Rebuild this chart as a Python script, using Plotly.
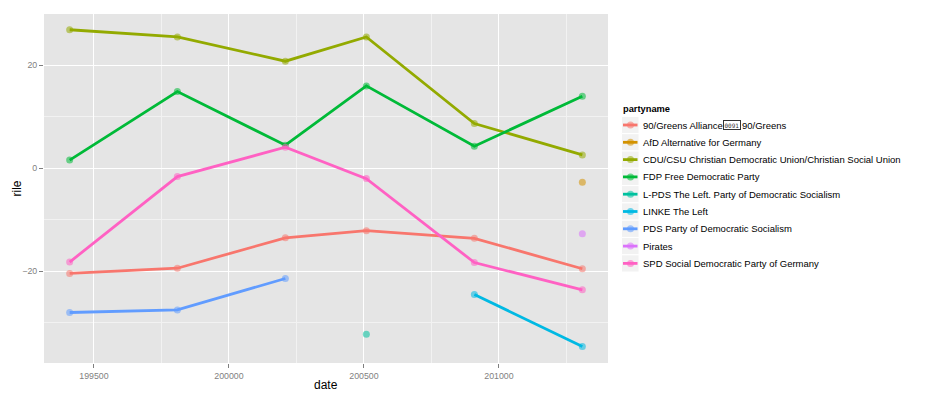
import plotly.graph_objects as go

parties = [
    "90/Greens Alliance\u009190/Greens",
    "AfD Alternative for Germany",
    "CDU/CSU Christian Democratic Union/Christian Social Union",
    "FDP Free Democratic Party",
    "L-PDS The Left. Party of Democratic Socialism",
    "LINKE The Left",
    "PDS Party of Democratic Socialism",
    "Pirates",
    "SPD Social Democratic Party of Germany",
]
colors = ["#F8766D", "#D39200", "#93AA00", "#00BA38", "#00C19F",
          "#00B9E3", "#619CFF", "#DB72FB", "#FF61C3"]

dates_greens = [199410, 199809, 200209, 200509, 200909, 201309]
rile_greens = [-20.4, -19.4, -13.5, -12.1, -13.6, -19.5]
dates_afd = [201309]
rile_afd = [-2.7]
dates_cdu = [199410, 199809, 200209, 200509, 200909, 201309]
rile_cdu = [26.9, 25.5, 20.8, 25.5, 8.7, 2.6]
dates_fdp = [199410, 199809, 200209, 200509, 200909, 201309]
rile_fdp = [1.6, 14.9, 4.5, 16.0, 4.3, 14.0]
dates_lpds = [200509]
rile_lpds = [-32.2]
dates_linke = [200909, 201309]
rile_linke = [-24.5, -34.6]
dates_pds = [199410, 199809, 200209]
rile_pds = [-28.0, -27.5, -21.4]
dates_pirates = [201309]
rile_pirates = [-12.7]
dates_spd = [199410, 199809, 200209, 200509, 200909, 201309]
rile_spd = [-18.2, -1.6, 4.1, -2.0, -18.3, -23.6]

x_ticks = [199500, 200000, 200500, 201000]
y_ticks = [-20, 0, 20]

series = [
    (dates_greens, rile_greens), (dates_afd, rile_afd), (dates_cdu, rile_cdu),
    (dates_fdp, rile_fdp), (dates_lpds, rile_lpds), (dates_linke, rile_linke),
    (dates_pds, rile_pds), (dates_pirates, rile_pirates), (dates_spd, rile_spd),
]

W, H = 927, 400
ML, MR, MT, MB = 44, 319, 14, 37
PW, PH = W - ML - MR, H - MT - MB


def px(x):
    return (x - ML) / PW


def py(y):
    return (H - MB - y) / PH


fig = go.Figure()
for name, col, (xs, ys) in zip(parties, colors, series):
    fig.add_trace(go.Scatter(
        x=xs, y=ys, name=name, mode="lines+markers", showlegend=False,
        line=dict(color=col, width=2.8),
        marker=dict(color=col, size=7, opacity=0.55, line=dict(width=0)),
    ))

font = "Liberation Sans, Arial, Helvetica, sans-serif"

shapes = []
annotations = [
    dict(xref="paper", yref="paper", x=px(621), y=py(109), xanchor="left",
         yanchor="middle", text="<b>partyname</b>", showarrow=False,
         font=dict(size=9.3, color="black", family=font)),
    dict(xref="paper", yref="paper", x=0.5, y=py(385), xanchor="center",
         yanchor="middle", text="date", showarrow=False,
         font=dict(size=12, color="black", family=font)),
    dict(xref="paper", yref="paper", x=px(16), y=0.5, xanchor="center",
         yanchor="middle", text="rile", showarrow=False, textangle=-90,
         font=dict(size=12, color="black", family=font)),
]
y0, step = 125.0, 17.3
for i, (name, col) in enumerate(zip(parties, colors)):
    cy = y0 + i * step
    shapes.append(dict(type="rect", xref="paper", yref="paper",
                       x0=px(621.5), x1=px(639), y0=py(cy - 8.6), y1=py(cy + 8.6),
                       fillcolor="#F2F2F2", line=dict(color="white", width=1),
                       layer="below"))
    shapes.append(dict(type="line", xref="paper", yref="paper",
                       x0=px(623), x1=px(637.5), y0=py(cy), y1=py(cy),
                       line=dict(color=col, width=2.8)))
    c = col.lstrip("#")
    rgba = "rgba(%d,%d,%d,0.55)" % (int(c[0:2], 16), int(c[2:4], 16), int(c[4:6], 16))
    shapes.append(dict(type="circle", xref="paper", yref="paper",
                       x0=px(627), x1=px(634), y0=py(cy - 3.5), y1=py(cy + 3.5),
                       fillcolor=rgba, line=dict(width=0)))
    if "\u0091" in name:
        left, right = name.split("\u0091")
        annotations.append(dict(
            xref="paper", yref="paper", x=px(641), y=py(cy), xanchor="left",
            yanchor="middle", text=left, showarrow=False,
            font=dict(size=9.5, color="black", family=font)))
        annotations.append(dict(
            xref="paper", yref="paper", x=px(731.5), y=py(cy), xanchor="center",
            yanchor="middle", text="0091", showarrow=False,
            font=dict(size=6, color="#333333", family="DejaVu Sans Mono"),
            bordercolor="#333333", borderwidth=1, borderpad=0.5))
        annotations.append(dict(
            xref="paper", yref="paper", x=px(740), y=py(cy), xanchor="left",
            yanchor="middle", text=right, showarrow=False,
            font=dict(size=9.5, color="black", family=font)))
    else:
        annotations.append(dict(
            xref="paper", yref="paper", x=px(641), y=py(cy), xanchor="left",
            yanchor="middle", text=name, showarrow=False,
            font=dict(size=9.5, color="black", family=font)))

fig.update_layout(
    width=W, height=H,
    margin=dict(l=ML, r=MR, t=MT, b=MB),
    plot_bgcolor="#E5E5E5", paper_bgcolor="white",
    font=dict(family=font, size=10, color="black"),
    showlegend=False,
    shapes=shapes, annotations=annotations,
    xaxis=dict(
        range=[199315, 201404], tickvals=x_ticks,
        tickformat="d", showgrid=True, gridcolor="white", gridwidth=1,
        zeroline=False, ticks="outside", ticklen=4, tickcolor="#7F7F7F",
        tickfont=dict(size=8.8, color="#7F7F7F"), automargin=False,
        minor=dict(tickvals=[199750, 200250, 200750, 201250],
                   showgrid=True, gridcolor="#F2F2F2", gridwidth=0.6),
    ),
    yaxis=dict(
        range=[-37.8, 29.96], tickvals=y_ticks,
        showgrid=True, gridcolor="white", gridwidth=1,
        zeroline=False, ticks="outside", ticklen=4, tickcolor="#7F7F7F",
        tickfont=dict(size=8.8, color="#7F7F7F"), automargin=False,
        minor=dict(tickvals=[-30, -10, 10],
                   showgrid=True, gridcolor="#F2F2F2", gridwidth=0.6),
    ),
)
fig.write_html("out.html")
